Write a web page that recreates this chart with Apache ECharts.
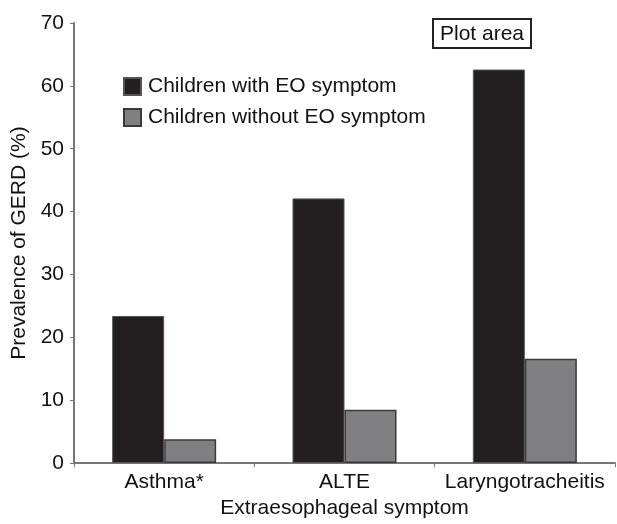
<!DOCTYPE html>
<html>
<head>
<meta charset="utf-8">
<script src="https://cdn.jsdelivr.net/npm/echarts@6/dist/echarts.min.js"></script>
<style>html,body{margin:0;padding:0;background:#fff;}#c{width:617px;height:524px;}</style>
</head>
<body>
<div id="c"></div>
<script>
var categories = ['Asthma*', 'ALTE', 'Laryngotracheitis'];
var withEO = [23.4, 42.1, 62.6];
var withoutEO = [3.8, 8.5, 16.6];
var seriesNames = ['Children with EO symptom', 'Children without EO symptom'];

var FONT = 'Liberation Sans, Arial, sans-serif';
var chart = echarts.init(document.getElementById('c'));
chart.setOption({
  animation: false,
  backgroundColor: '#fff',
  title: {
    text: 'Plot area',
    left: 433, top: 19,
    padding: [4, 7, 3, 7],
    borderColor: '#222', borderWidth: 2,
    textStyle: { fontFamily: FONT, fontSize: 21, fontWeight: 'normal', color: '#111', lineHeight: 22 }
  },
  legend: {
    orient: 'vertical', left: 118, top: 71,
    itemWidth: 17, itemHeight: 17, itemGap: 10,
    icon: 'rect',
    textStyle: { fontFamily: FONT, fontSize: 21, color: '#111', padding: [0, 0, 0, 2] },
    data: seriesNames
  },
  grid: { left: 74, top: 23, width: 541, height: 443, containLabel: false },
  xAxis: {
    type: 'category', data: categories,
    name: 'Extraesophageal symptom', nameLocation: 'middle', nameGap: 34,
    nameTextStyle: { fontFamily: FONT, fontSize: 21, color: '#111' },
    axisLine: { lineStyle: { color: '#777', width: 2 } },
    axisTick: { show: true, interval: 0, length: 4, lineStyle: { color: '#777' }, inside: false },
    axisLabel: { interval: 0, hideOverlap: false, fontFamily: FONT, fontSize: 21, color: '#111', margin: 9 }
  },
  yAxis: {
    type: 'value', min: 0, max: 70, interval: 10,
    name: 'Prevalence of GERD (%)', nameLocation: 'middle', nameGap: 44,
    nameTextStyle: { fontFamily: FONT, fontSize: 21, color: '#111' },
    splitLine: { show: false },
    axisLine: { show: true, lineStyle: { color: '#777', width: 2 } },
    axisTick: { show: true, length: 4, lineStyle: { color: '#777' } },
    axisLabel: { fontFamily: FONT, fontSize: 21, color: '#111', margin: 10 }
  },
  series: [
    { name: seriesNames[0], type: 'bar', data: withEO, barWidth: 52, barGap: '0%',
      itemStyle: { color: '#231f20', borderColor: '#555', borderWidth: 1 } },
    { name: seriesNames[1], type: 'bar', data: withoutEO, barWidth: 52, barGap: '0%',
      itemStyle: { color: '#808083', borderColor: '#3a3a3a', borderWidth: 1.5 } }
  ]
});
</script>
</body>
</html>
